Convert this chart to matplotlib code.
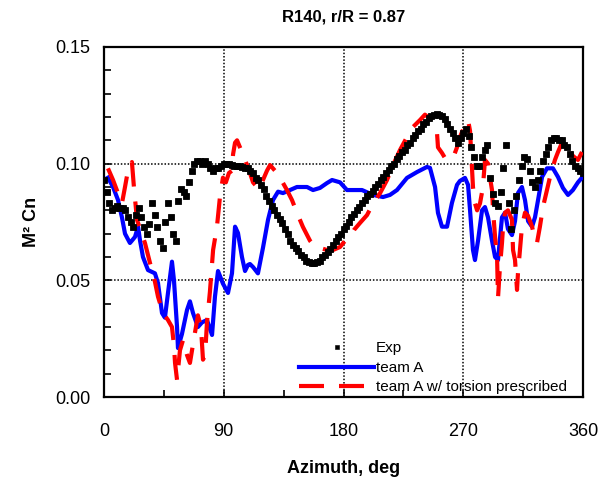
import matplotlib
matplotlib.use("Agg")
import matplotlib.pyplot as plt
from matplotlib.ticker import MultipleLocator

plt.rcParams['font.family'] = ['Liberation Sans', 'DejaVu Sans']

# Measured normal force coefficient (2 deg steps)
exp_az = list(range(0, 361, 2))
exp_cn = [
    0.093, 0.088, 0.083, 0.080, 0.081, 0.082, 0.081, 0.081, 0.080, 0.077,
    0.075, 0.073, 0.078, 0.081, 0.077, 0.073, 0.070, 0.074, 0.083, 0.078,
    0.073, 0.067, 0.064, 0.075, 0.083, 0.077, 0.070, 0.067, 0.084, 0.089,
    0.088, 0.086, 0.092, 0.097, 0.100, 0.101, 0.101, 0.100, 0.101, 0.100,
    0.098, 0.097, 0.098, 0.098, 0.099, 0.100,
    0.100, 0.100, 0.0995, 0.099, 0.099, 0.099, 0.0985, 0.098, 0.098, 0.097,
    0.096, 0.094, 0.093, 0.091, 0.089, 0.086, 0.084, 0.082, 0.080, 0.078,
    0.0765, 0.0745, 0.072, 0.070, 0.067, 0.065, 0.064, 0.0625, 0.061, 0.060,
    0.0585, 0.0578, 0.0575, 0.0575, 0.058, 0.0585, 0.060, 0.061, 0.062, 0.0635,
    0.065, 0.067, 0.0685, 0.070, 0.072, 0.0735, 0.075, 0.077, 0.0785, 0.080,
    0.0815, 0.083, 0.0845, 0.086, 0.087, 0.0885, 0.090, 0.0915, 0.093, 0.0945,
    0.096, 0.0975, 0.099, 0.100, 0.102, 0.1035, 0.105, 0.106, 0.108, 0.109,
    0.111, 0.1125, 0.114, 0.115, 0.117, 0.118, 0.1195, 0.1205, 0.121, 0.1212,
    0.121, 0.1205, 0.119, 0.117, 0.115, 0.113, 0.111, 0.109, 0.111, 0.113,
    0.115, 0.112, 0.107, 0.103, 0.099, 0.099, 0.103, 0.106, 0.108, 0.094,
    0.087, 0.083, 0.082, 0.088, 0.098, 0.108, 0.083, 0.072, 0.080, 0.086,
    0.093, 0.099, 0.103, 0.102, 0.097, 0.092, 0.090, 0.093, 0.097, 0.101,
    0.104, 0.107, 0.110, 0.111, 0.111, 0.110, 0.110, 0.108, 0.107, 0.104,
    0.101, 0.099, 0.098, 0.097, 0.096,
]

# team A prediction
a_az = [3.0, 6.8, 10.5, 13.5, 15.8, 19.5, 23.3, 25.6, 27.1, 29.3,
        33.1, 38.3, 40.6, 43.6, 45.8, 48.1, 51.1, 52.6, 54.9, 55.6,
        58.6, 62.4, 64.6, 66.9, 70.6, 73.7, 77.4, 81.2, 83.4, 85.7,
        89.4, 93.2, 96.2, 98.5, 100.7, 103.7, 106.0, 108.2, 109.7, 112.0,
        115.7, 119.5, 123.3, 127.0, 130.8, 134.5, 139.8, 145.0, 152.6, 157.1,
        162.3, 167.6, 171.4, 177.4, 182.6, 187.1, 193.9, 202.2, 209.7, 214.9,
        220.2, 227.7, 235.2, 242.7, 245.0, 248.8, 251.0, 254.0, 257.8, 261.5,
        265.3, 267.5, 271.3, 273.6, 275.1, 277.3, 278.8, 281.1, 284.1, 286.3,
        288.6, 291.6, 293.9, 296.1, 297.6, 299.1, 301.4, 303.6, 306.6, 308.9,
        311.1, 314.1, 316.4, 318.7, 321.7, 323.9, 326.2, 329.2, 332.9, 337.4,
        341.2, 344.9, 348.7, 352.4, 356.2, 359.2]
a_cn = [0.094, 0.090, 0.0845, 0.077, 0.070, 0.066, 0.0686, 0.073, 0.067, 0.060,
        0.0544, 0.053, 0.0488, 0.036, 0.034, 0.0446, 0.058, 0.050, 0.030, 0.021,
        0.027, 0.0373, 0.041, 0.036, 0.030, 0.032, 0.033, 0.0266, 0.043, 0.054,
        0.0486, 0.0446, 0.053, 0.073, 0.0703, 0.060, 0.054, 0.0566, 0.057, 0.0557,
        0.053, 0.064, 0.076, 0.0844, 0.088, 0.0874, 0.0887, 0.090, 0.090, 0.0887,
        0.0896, 0.0917, 0.093, 0.092, 0.0887, 0.0887, 0.0887, 0.0866, 0.0857, 0.0866,
        0.0887, 0.0939, 0.0964, 0.0986, 0.0982, 0.090, 0.0789, 0.073, 0.073, 0.0832,
        0.0909, 0.0926, 0.0939, 0.0909, 0.080, 0.063, 0.0587, 0.067, 0.080, 0.0814,
        0.077, 0.067, 0.060, 0.0587, 0.068, 0.077, 0.079, 0.072, 0.0694, 0.0754,
        0.0874, 0.090, 0.0844, 0.0754, 0.073, 0.077, 0.0844, 0.0943, 0.098, 0.098,
        0.0943, 0.0896, 0.0866, 0.0887, 0.092, 0.094]

# team A with prescribed torsion
t_az = [3.0, 6.8, 10.5, 13.5, 15.8, 18.0, 21.0, 22.5, 24.8, 27.1,
        30.8, 34.6, 38.3, 40.6, 44.3, 48.1, 51.1, 52.6, 53.4, 54.9,
        57.1, 59.4, 62.4, 64.6, 67.6, 70.6, 72.9, 74.4, 76.0, 77.4,
        79.6, 82.0, 84.9, 87.2, 89.4, 91.6, 93.9, 96.2, 97.0, 98.5,
        100.0, 102.2, 106.0, 109.7, 112.0, 115.0, 117.2, 119.5, 122.5, 124.8,
        128.5, 132.3, 137.5, 141.3, 145.0, 149.5, 154.8, 158.6, 162.3, 167.6,
        172.1, 177.4, 181.1, 184.9, 187.9, 192.4, 197.7, 202.2, 207.5, 212.7,
        217.2, 222.5, 227.7, 232.2, 237.5, 241.2, 243.5, 247.3, 250.3, 251.0,
        254.0, 256.3, 260.1, 262.3, 265.3, 267.5, 271.3, 273.6, 275.1, 277.3,
        278.8, 280.4, 282.6, 284.8, 286.3, 288.6, 290.1, 291.6, 292.4, 293.9,
        295.4, 296.1, 297.6, 299.1, 299.9, 301.4, 303.6, 306.6, 307.4, 308.9,
        310.4, 311.1, 312.6, 314.1, 316.4, 318.7, 321.7, 323.9, 325.4, 327.6,
        329.9, 332.9, 335.2, 338.9, 341.2, 344.2, 346.5, 348.7, 352.4, 356.2,
        359.2]
t_cn = [0.098, 0.093, 0.0874, 0.083, 0.090, 0.097, 0.1007, 0.090, 0.076, 0.072,
        0.066, 0.0574, 0.0494, 0.043, 0.036, 0.033, 0.030, 0.022, 0.0146, 0.0073,
        0.020, 0.0244, 0.018, 0.0146, 0.025, 0.035, 0.030, 0.016, 0.018, 0.032,
        0.045, 0.063, 0.073, 0.086, 0.094, 0.092, 0.096, 0.097, 0.104, 0.109,
        0.110, 0.107, 0.1016, 0.096, 0.092, 0.090, 0.089, 0.093, 0.097, 0.0994,
        0.097, 0.094, 0.0887, 0.0844, 0.079, 0.0729, 0.067, 0.0643, 0.0639, 0.063,
        0.063, 0.0643, 0.0669, 0.0686, 0.0716, 0.0746, 0.078, 0.083, 0.0874, 0.093,
        0.0994, 0.1059, 0.1114, 0.1157, 0.1187, 0.121, 0.120, 0.1157, 0.113, 0.107,
        0.1046, 0.1024, 0.1016, 0.1024, 0.107, 0.1114, 0.1166, 0.1187, 0.114, 0.090,
        0.083, 0.080, 0.083, 0.090, 0.1016, 0.100, 0.094, 0.0887, 0.080, 0.0686,
        0.060, 0.0424, 0.056, 0.066, 0.073, 0.079, 0.080, 0.076, 0.063, 0.0587,
        0.0459, 0.053, 0.063, 0.073, 0.079, 0.0776, 0.073, 0.0673, 0.066, 0.073,
        0.0814, 0.0887, 0.0943, 0.1016, 0.105, 0.109, 0.110, 0.107, 0.1033, 0.1016,
        0.105]

x_ticks = [0, 90, 180, 270, 360]
y_ticks = [0.00, 0.05, 0.10, 0.15]

fig = plt.figure(figsize=(6.07, 4.82), dpi=100)
ax = fig.add_axes([0.1713, 0.1763, 0.7892, 0.7262])

for v in [90, 180, 270]:
    ax.axvline(v, color='black', linestyle=(0, (1, 1.2)), linewidth=1.1, zorder=1)
for v in [0.05, 0.10]:
    ax.axhline(v, color='black', linestyle=(0, (1, 1.2)), linewidth=1.1, zorder=1)

ax.plot(a_az, a_cn, color='#0000ff', linewidth=3.0, zorder=3, label='team A')
ax.plot(t_az, t_cn, color='#ff0000', linewidth=3.0, zorder=4,
        dashes=(6.0, 3.6), label='team A w/ torsion prescribed')
ax.plot(exp_az, exp_cn, linestyle='none', marker='s', markersize=4.2,
        color='black', markeredgewidth=0.6, markeredgecolor='black',
        zorder=5, label='Exp')

ax.set_xlim(0, 360)
ax.set_ylim(0, 0.15)
ax.set_xticks(x_ticks)
ax.set_yticks(y_ticks)
ax.set_xticklabels([str(t) for t in x_ticks])
ax.set_yticklabels([f"{t:.2f}" for t in y_ticks])
ax.xaxis.set_minor_locator(MultipleLocator(45))
ax.yaxis.set_minor_locator(MultipleLocator(0.01))
ax.tick_params(axis='both', which='both', direction='in', labelsize=13,
               top=False, right=False, width=1.2)
ax.tick_params(axis='both', which='both', length=5)
ax.tick_params(axis='y', which='major', pad=10)
ax.tick_params(axis='x', which='major', pad=19)
for s in ax.spines.values():
    s.set_linewidth(1.6)

ax.set_xlabel('Azimuth, deg', fontsize=13, fontweight='bold', labelpad=14)
ax.set_ylabel('M² Cn', fontsize=13, fontweight='bold', labelpad=11)
ax.set_title('R140, r/R = 0.87', fontsize=12, fontweight='bold', pad=18)

handles, labels = ax.get_legend_handles_labels()
order = [2, 0, 1]
leg = ax.legend([handles[i] for i in order], [labels[i] for i in order],
                loc='lower right', bbox_to_anchor=(0.979, -0.01), frameon=False,
                fontsize=11, handlelength=4.9, handletextpad=0.1, numpoints=1,
                labelspacing=0.36, borderaxespad=0.0)
leg.legend_handles[0].set_markersize(2.4)
leg.legend_handles[0].set_markeredgewidth(0.4)

fig.savefig('out.png', dpi=100)
